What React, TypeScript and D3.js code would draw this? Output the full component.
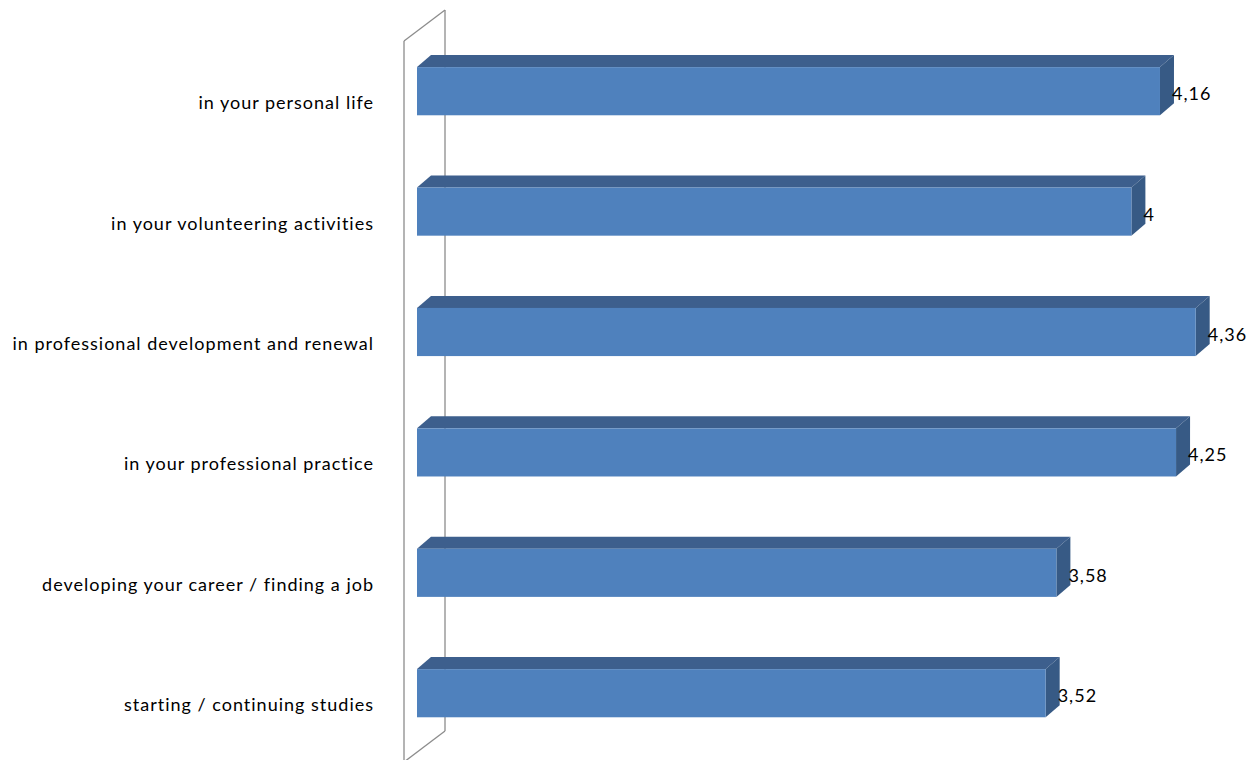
import React from "react";
import * as d3 from "d3";

const categories = [
  "in your personal life",
  "in your volunteering activities",
  "in professional development and renewal",
  "in your professional practice",
  "developing your career / finding a job",
  "starting / continuing studies",
];
const values = [4.16, 4, 4.36, 4.25, 3.58, 3.52];
const valueLabels = ["4,16", "4", "4,36", "4,25", "3,58", "3,52"];

const W = 1257;
const H = 760;
const DX = 14;
const DY = 12;

export default function App() {
  const x = d3.scaleLinear().domain([0, 4.5]).range([417, 1220.7]);
  const yLabel = d3.scaleBand<string>().domain(categories).range([41, 763.4]);
  const yBar = d3
    .scaleBand<string>()
    .domain(categories)
    .range([31, 753.4])
    .paddingInner(0.6)
    .paddingOuter(0.3);

  const font = "Lato, 'Open Sans', sans-serif";

  return (
    <svg
      width={W}
      height={H}
      style={{ position: "absolute", left: 0, top: 0, display: "block", background: "#fff" }}
    >
      {/* wall */}
      <g fill="none" stroke="#8c8c8c" strokeWidth={1.3}>
        <line x1={404} y1={41} x2={404} y2={762} />
        <line x1={445} y1={10} x2={445} y2={731} />
        <line x1={404} y1={41} x2={445} y2={10} />
        <line x1={445} y1={731} x2={404} y2={762} />
      </g>
      {categories.map((c, i) => {
        const x0 = x(0);
        const x1 = x(values[i]);
        const y0 = yBar(c)!;
        const h = yBar.bandwidth();
        const top = `M${x0},${y0}L${x0 + DX},${y0 - DY}L${x1 + DX},${y0 - DY}L${x1},${y0}Z`;
        const side = `M${x1},${y0}L${x1 + DX},${y0 - DY}L${x1 + DX},${y0 + h - DY}L${x1},${y0 + h}Z`;
        const cy = yLabel(c)! + yLabel.bandwidth() / 2;
        return (
          <g key={c}>
            <path d={top} fill="#3d5f8d" />
            <path d={side} fill="#375a85" />
            <rect x={x0} y={y0} width={x1 - x0} height={h} fill="#4f81bd" />
            <text
              x={374}
              y={cy + 1}
              textAnchor="end"
              dominantBaseline="central"
              fontFamily={font}
              fontSize={18}
              letterSpacing={1}
              fill="#000"
            >
              {c}
            </text>
            <text
              x={x1 + 12}
              y={cy - 8}
              dominantBaseline="central"
              fontFamily={font}
              fontSize={18}
              letterSpacing={1}
              fill="#000"
            >
              {valueLabels[i]}
            </text>
          </g>
        );
      })}
    </svg>
  );
}
